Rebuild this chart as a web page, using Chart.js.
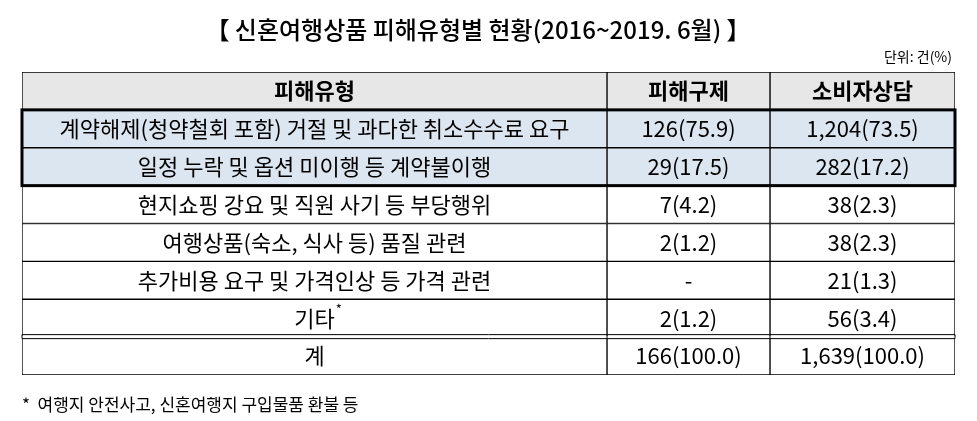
<!DOCTYPE html>
<html><head><meta charset="utf-8">
<script src="https://cdn.jsdelivr.net/npm/chart.js@4/dist/chart.umd.min.js"></script>
<style>html,body{margin:0;background:#fff}#w{width:977px;height:421px}</style>
</head><body><div id="w"><canvas id="c"></canvas></div>
<script>
const headers = ['피해유형', '피해구제', '소비자상담'];
const categories = ['계약해제(청약철회 포함) 거절 및 과다한 취소수수료 요구','일정 누락 및 옵션 미이행 등 계약불이행','현지쇼핑 강요 및 직원 사기 등 부당행위','여행상품(숙소, 식사 등) 품질 관련','추가비용 요구 및 가격인상 등 가격 관련','기타*','계'];
const relief = ['126(75.9)','29(17.5)','7(4.2)','2(1.2)','-','2(1.2)','166(100.0)'];
const consult = ['1,204(73.5)','282(17.2)','38(2.3)','38(2.3)','21(1.3)','56(3.4)','1,639(100.0)'];
const title = '【 신혼여행상품 피해유형별 현황(2016~2019. 6월) 】';
const unit = '단위: 건(%)';
const footnote = '*  여행지 안전사고, 신혼여행지 구입물품 환불 등';

const colW = [585, 163, 185];
const edges = [0, colW[0], colW[0]+colW[1], colW[0]+colW[1]+colW[2]];
const rows = [headers[0], ...categories];
const fills = rows.map((r,i)=> i===0 ? '#e7e7e7' : (i===1||i===2) ? '#dce6f1' : '#ffffff');
const datasets = [0,1,2].map(c=>({
  data: rows.map(()=>[edges[c], edges[c+1]]),
  backgroundColor: fills, borderColor:'#000', borderWidth:1, borderSkipped:false,
  grouped:false, categoryPercentage:1, barPercentage:1
}));
const F = '"Noto Sans CJK KR", "Noto Sans", sans-serif';
const tablePlugin = {
  id:'tbl',
  afterDatasetsDraw(ch){
    const ctx=ch.ctx, x=ch.scales.x, y=ch.scales.y, a=ch.chartArea;
    const half = (y.getPixelForValue(1)-y.getPixelForValue(0))/2;
    ctx.save();
    ctx.fillStyle='#000'; ctx.textBaseline='middle'; ctx.textAlign='center';
    rows.forEach((r,i)=>{
      const py=y.getPixelForValue(i);
      const cells = i===0 ? headers : [categories[i-1], relief[i-1], consult[i-1]];
      cells.forEach((t,c)=>{
        ctx.font = (i===0?'bold ':'')+'22px '+F;
        const px=(x.getPixelForValue(edges[c])+x.getPixelForValue(edges[c+1]))/2;
        if(t.endsWith('*')){
          const base=t.slice(0,-1); const w=ctx.measureText(base).width;
          ctx.fillText(base,px,py);
          ctx.font='13px '+F; ctx.textAlign='left'; ctx.fillText('*',px+w/2+1,py-9); ctx.textAlign='center';
        } else ctx.fillText(t,px,py);
      });
    });
    ctx.lineWidth=3; ctx.strokeStyle='#000';
    const t1=y.getPixelForValue(1)-half, b2=y.getPixelForValue(2)+half;
    ctx.strokeRect(a.left,t1,a.right-a.left,b2-t1);
    const tt=y.getPixelForValue(7)-half;
    ctx.lineWidth=1; ctx.fillStyle='#fff'; ctx.fillRect(a.left,tt-1.5,a.right-a.left,3);
    ctx.beginPath(); ctx.moveTo(a.left,tt-2.5); ctx.lineTo(a.right,tt-2.5); ctx.moveTo(a.left,tt+1.5); ctx.lineTo(a.right,tt+1.5); ctx.stroke();
    [1,2].forEach(c=>{const px=x.getPixelForValue(edges[c]); ctx.beginPath(); ctx.moveTo(px,tt-2.5); ctx.lineTo(px,tt+1.5); ctx.stroke();});
    ctx.beginPath(); ctx.moveTo(a.left,tt-2.5); ctx.lineTo(a.left,tt+1.5); ctx.moveTo(a.right,tt-2.5); ctx.lineTo(a.right,tt+1.5); ctx.stroke();
    ctx.fillStyle='#000';
    ctx.font='500 24px '+F; ctx.textAlign='center'; ctx.fillText(title,478,30);
    ctx.font='14px '+F; ctx.textAlign='right'; ctx.fillText(unit,952,57);
    ctx.font='17px '+F; ctx.textAlign='left'; ctx.fillText(footnote,22,405);
    ctx.restore();
  }
};
new Chart(document.getElementById('c'),{
  type:'bar',
  data:{labels:rows,datasets},
  options:{
    indexAxis:'y', responsive:true, maintainAspectRatio:false, animation:false,
    layout:{padding:{left:22,right:22,top:72,bottom:46}},
    plugins:{legend:{display:false},tooltip:{enabled:false}},
    scales:{x:{display:false,min:0,max:edges[3]},y:{display:false}}
  },
  plugins:[tablePlugin]
});
</script></body></html>
